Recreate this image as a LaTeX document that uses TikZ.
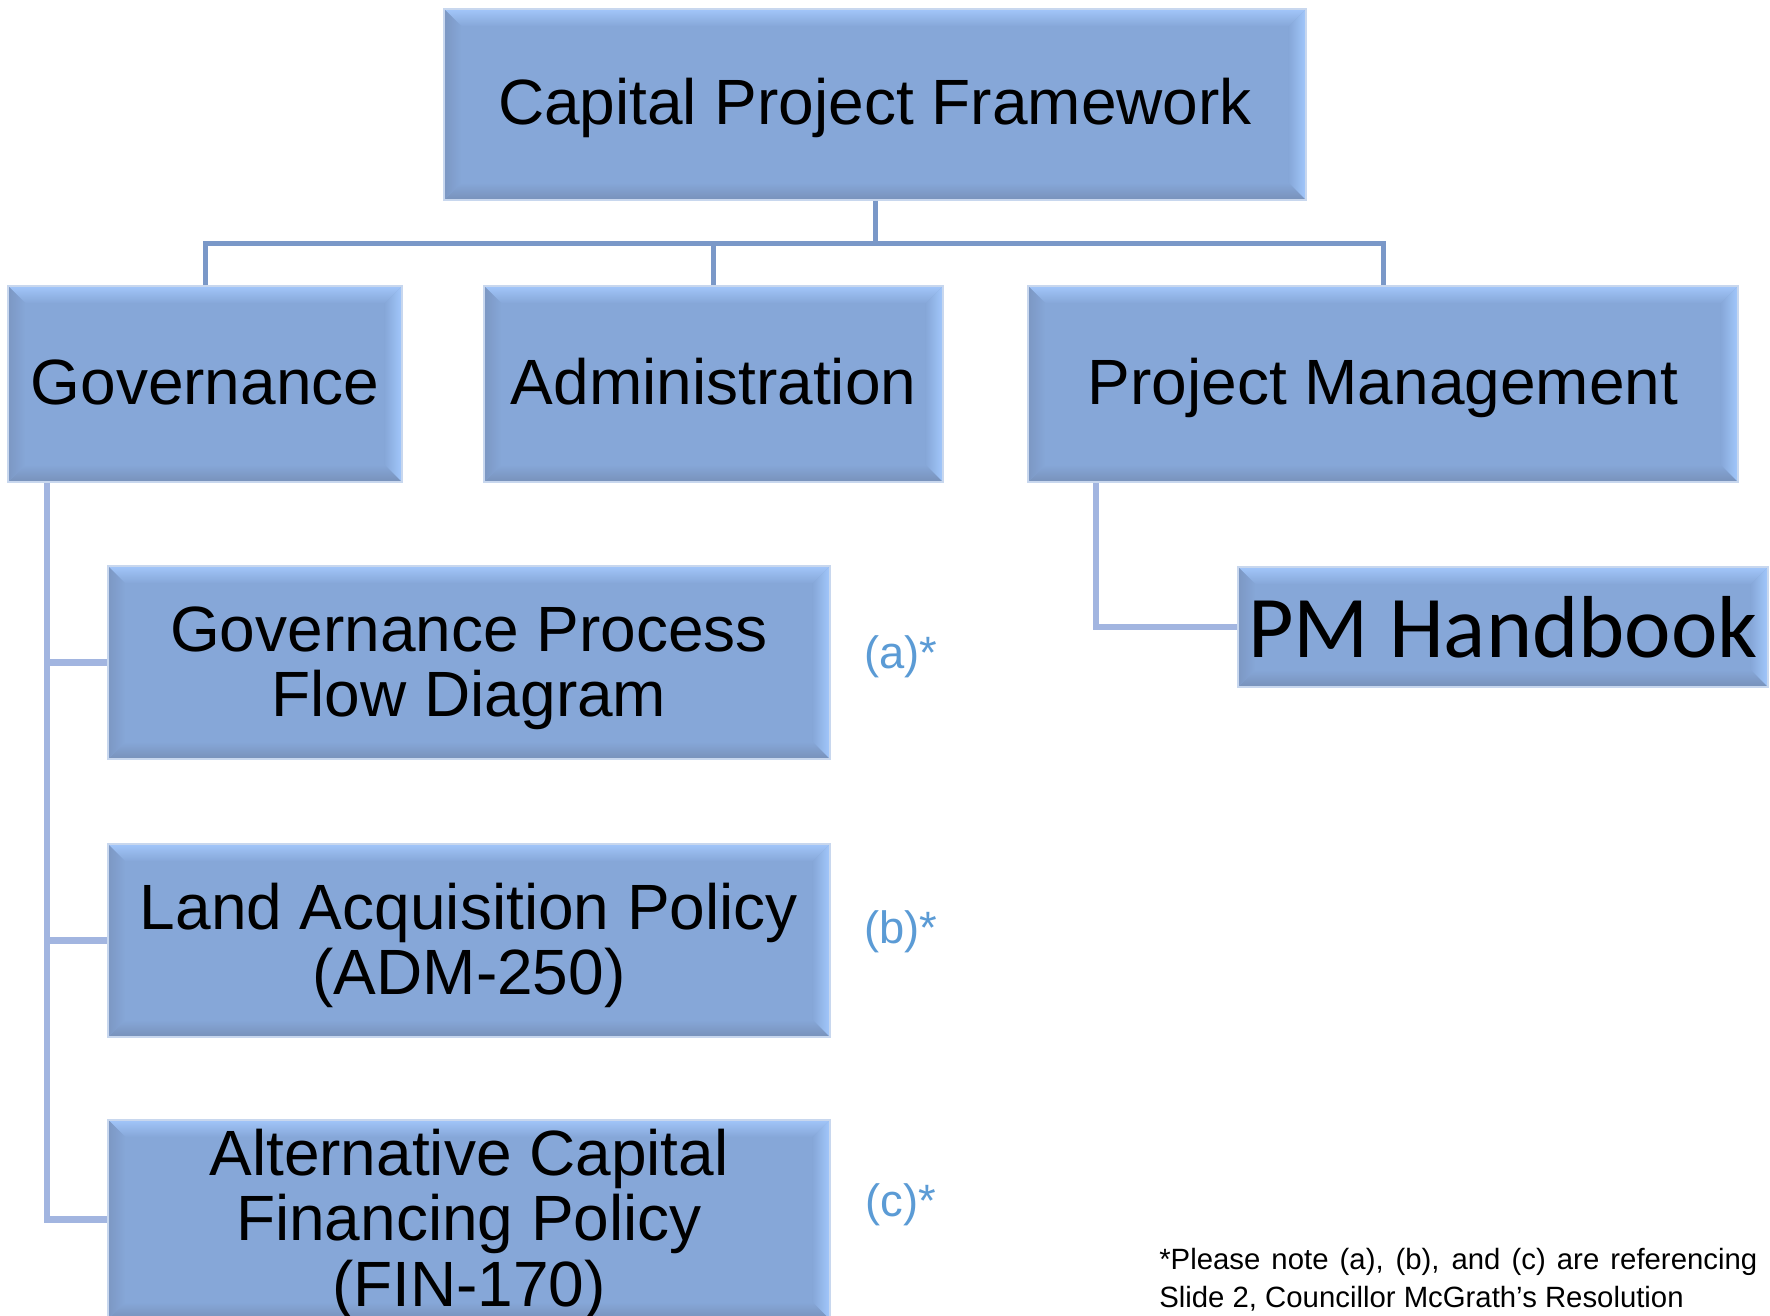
\documentclass[tikz,border=0pt]{standalone}
\usepackage{fontspec}
\setmainfont{Liberation Sans}
\newfontfamily\calibrifont{Carlito}
\usetikzlibrary{calc}

\definecolor{boxfill}{HTML}{86A7D8}
\definecolor{boxrim}{HTML}{C8D7EE}
\definecolor{bvtop}{HTML}{A2C6FA}
\definecolor{bvbot}{HTML}{7891BA}
\definecolor{bvleft}{HTML}{7C97C3}
\definecolor{bvright}{HTML}{A2C8FC}
\definecolor{busline}{HTML}{7A98C8}
\definecolor{branchline}{HTML}{A2B5E0}
\definecolor{notecolor}{HTML}{5B9BD5}

\def\bevw{13pt}
% extra height on the first line of multi-line boxes
\newcommand\firstpad{\rule{0pt}{42pt}}

\tikzset{
  bevelbox/.style={rectangle, inner sep=0pt, align=center,
    fill=boxfill, draw=boxrim, line width=1.5pt,
    font=\fontsize{48}{49}\selectfont,
    path picture={
      \coordinate (bnw) at (path picture bounding box.north west);
      \coordinate (bne) at (path picture bounding box.north east);
      \coordinate (bsw) at (path picture bounding box.south west);
      \coordinate (bse) at (path picture bounding box.south east);
      \shade[top color=bvtop, bottom color=boxfill]
        (bnw) -- (bne) -- ([shift={(-\bevw,-\bevw)}]bne) -- ([shift={(\bevw,-\bevw)}]bnw) -- cycle;
      \shade[top color=boxfill, bottom color=bvbot]
        (bsw) -- (bse) -- ([shift={(-\bevw,\bevw)}]bse) -- ([shift={(\bevw,\bevw)}]bsw) -- cycle;
      \shade[left color=bvleft, right color=boxfill]
        (bnw) -- (bsw) -- ([shift={(\bevw,\bevw)}]bsw) -- ([shift={(\bevw,-\bevw)}]bnw) -- cycle;
      \shade[left color=boxfill, right color=bvright]
        (bne) -- (bse) -- ([shift={(-\bevw,\bevw)}]bse) -- ([shift={(-\bevw,-\bevw)}]bne) -- cycle;
    }},
  oneline/.style={text height=40pt, text depth=9.4pt},
  busconn/.style={draw=busline, line width=3.75pt},
  branchconn/.style={draw=branchline, line width=4.75pt},
  refmark/.style={text=notecolor, font=\fontsize{34}{36}\selectfont, inner sep=0pt}
}

\begin{document}
\begin{tikzpicture}[x=0.75pt, y=-0.75pt]
\useasboundingbox (0,0) rectangle (1770,1316);

\coordinate (bus) at (0,244);

% boxes
\node[bevelbox, oneline, minimum width=646.5pt, minimum height=143.25pt] (top) at (875,104.5) {Capital Project Framework};
\node[bevelbox, oneline, minimum width=295.5pt, minimum height=147pt] (gov) at (205,384) {Governance};
\node[bevelbox, oneline, minimum width=344.25pt, minimum height=147pt] (adm) at (713.5,384) {Administration};
\node[bevelbox, oneline, minimum width=532.5pt, minimum height=147pt] (pm) at (1383,384) {Project Management};

\node[bevelbox, minimum width=541.5pt, minimum height=144.75pt] (gpf) at (469,662.5) {\firstpad Governance Process\\Flow Diagram};
\node[bevelbox, minimum width=541.5pt, minimum height=144.75pt] (lap) at (469,940.5) {\firstpad Land Acquisition Policy\\(ADM-250)};
\node[bevelbox, minimum width=541.5pt, minimum height=144.75pt] (acf) at (469,1219.5) {\firstpad Alternative Capital\\Financing Policy\\(FIN-170)};

\node[bevelbox, minimum width=397.5pt, minimum height=90pt, font=\calibrifont\fontsize{66}{66}\selectfont] (pmh) at (1503,627) {PM Handbook};

% top-level bus
\draw[busconn] (top.south) -- (top.south |- bus);
\draw[busconn] (gov.north) -- (gov.north |- bus) -| (pm.north);
\draw[busconn] (adm.north) -- (adm.north |- bus);

% governance branch
\coordinate (gtrunk) at ([xshift=30pt]gov.south west);
\draw[branchconn] (gtrunk) |- (acf.west);
\draw[branchconn] (gtrunk |- gpf.west) -- (gpf.west);
\draw[branchconn] (gtrunk |- lap.west) -- (lap.west);

% project management branch
\coordinate (ptrunk) at ([xshift=51.75pt]pm.south west);
\draw[branchconn] (ptrunk) |- (pmh.west);

% reference marks
\node[refmark] (ma) at (901,657) {(a)*};
\node[refmark] (mb) at (901,932) {(b)*};
\node[refmark] (mc) at (901,1205) {(c)*};

% footnote
\node[anchor=north west, inner sep=0pt, align=left, font=\fontsize{22}{28.5}\selectfont] (note) at (1159,1248)
  {\makebox[448.5pt][s]{*Please note (a), (b), and (c) are referencing}\\Slide 2, Councillor McGrath’s Resolution};
\end{tikzpicture}
\end{document}
